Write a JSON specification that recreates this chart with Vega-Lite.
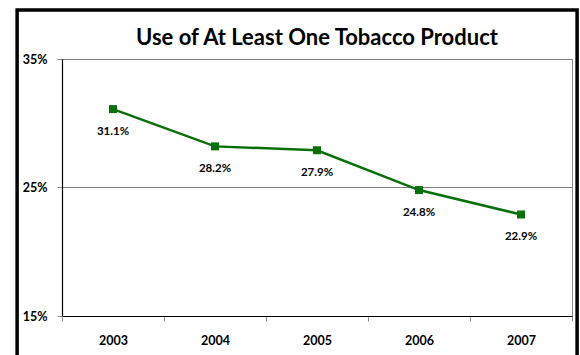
{
  "$schema": "https://vega.github.io/schema/vega-lite/v6.json",
  "width": 510,
  "height": 257,
  "autosize": {"type": "none"},
  "padding": {"left": 62, "top": 59, "right": 8, "bottom": 39},
  "background": "white",
  "title": {
    "text": "Use of At Least One Tobacco Product",
    "font": "Lato",
    "fontSize": 22,
    "fontWeight": "bold",
    "color": "black",
    "anchor": "middle",
    "frame": "group",
    "offset": -42
  },
  "data": {
    "values": [
      {"year": "2003", "share": 0.311},
      {"year": "2004", "share": 0.282},
      {"year": "2005", "share": 0.279},
      {"year": "2006", "share": 0.248},
      {"year": "2007", "share": 0.229}
    ]
  },
  "config": {
    "view": {"stroke": "#8c8c8c", "strokeWidth": 1},
    "font": "Lato"
  },
  "layer": [
    {
      "data": {"values": [{}]},
      "mark": {"type": "rect", "fill": null, "stroke": "black", "strokeWidth": 3.5},
      "encoding": {
        "x": {"datum": 2002.06, "type": "quantitative", "scale": {"domain": [2002.5, 2007.5], "nice": false, "zero": false}, "axis": null},
        "x2": {"datum": 2007.55},
        "y": {"datum": 0.3881, "type": "quantitative"},
        "y2": {"datum": 0.11}
      }
    },
    {
      "encoding": {
        "x": {
          "field": "year",
          "type": "ordinal",
          "scale": {"type": "band", "paddingInner": 0, "paddingOuter": 0},
          "axis": {
            "title": null,
            "tickBand": "extent",
            "tickColor": "#8c8c8c",
            "tickSize": 5,
            "domainColor": "black",
            "domainWidth": 1.2,
            "labelAngle": 0,
            "labelFont": "Lato",
            "labelFontSize": 12.5,
            "labelFontWeight": "bold",
            "labelColor": "black",
            "labelPadding": 13,
            "grid": false
          }
        },
        "y": {
          "field": "share",
          "type": "quantitative",
          "scale": {"domain": [0.15, 0.35], "nice": false, "zero": false},
          "axis": {
            "title": null,
            "values": [0.15, 0.25, 0.35],
            "format": ".0%",
            "grid": true,
            "gridColor": "#808080",
            "gridWidth": 1,
            "tickColor": "#8c8c8c",
            "tickSize": 5,
            "domainColor": "black",
            "domainWidth": 1.2,
            "labelFont": "Lato",
            "labelFontSize": 12.5,
            "labelFontWeight": "bold",
            "labelColor": "black",
            "labelPadding": 10
          }
        }
      },
      "layer": [
        {"mark": {"type": "line", "color": "#087008", "strokeWidth": 2.5}},
        {"mark": {"type": "square", "color": "#087008", "size": 64, "opacity": 1, "filled": true}},
        {
          "mark": {"type": "text", "font": "Lato", "fontSize": 11.5, "fontWeight": "bold", "color": "black", "dy": 23},
          "encoding": {"text": {"field": "share", "type": "quantitative", "format": ".1%"}}
        }
      ]
    }
  ],
  "resolve": {"scale": {"x": "independent"}}
}
